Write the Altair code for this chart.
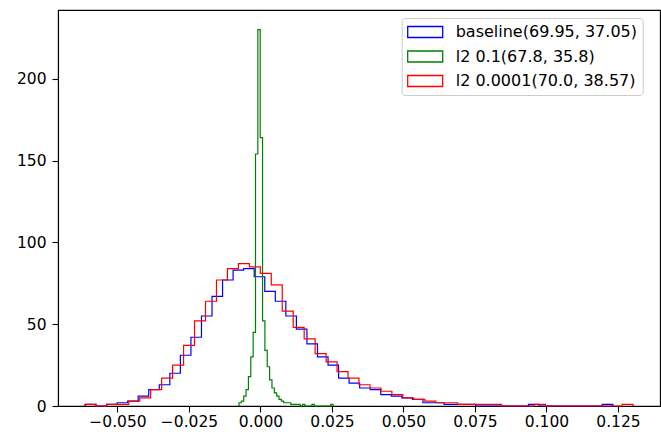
import altair as alt
import numpy as np
import pandas as pd

# ---- data (step histograms) ----
series_names = ["baseline(69.95, 37.05)", "l2 0.1(67.8, 35.8)", "l2 0.0001(70.0, 38.57)"]
series_colors = ["blue", "green", "red"]

baseline_range = [-0.0612, 0.1232]
baseline_counts = [1, 0, 1, 2, 3, 6, 10, 13, 20, 31,
                   42, 55, 67, 77, 83, 84, 79, 70, 64, 55,
                   47, 38, 30, 25, 17, 14, 11, 10, 7, 6,
                   5, 4, 2, 2, 1, 1, 1, 0, 0, 0,
                   0, 0, 1, 0, 0, 0, 0, 0, 0, 1]

l2_01_range = [-0.0075, 0.0254]
l2_01_counts = [2, 3, 6, 10, 18, 30, 45, 154, 230, 164,
                52, 34, 24, 16, 11, 8, 6, 4, 3, 2,
                2, 2, 1, 1, 1, 1, 0, 1, 0, 0,
                0, 1, 0, 0, 0, 0, 0, 0, 0, 1]

l2_00001_range = [-0.0614, 0.1303]
l2_00001_counts = [1, 0, 1, 1, 3, 5, 10, 17, 25, 37,
                   52, 64, 77, 84, 87, 85, 81, 74, 58, 48,
                   41, 32, 27, 21, 17, 13, 11, 9, 7, 5,
                   4, 3, 2, 2, 1, 1, 1, 1, 0, 0,
                   0, 1, 0, 0, 0, 0, 0, 0, 0, 1]

x_ticks = [-0.05, -0.025, 0.0, 0.025, 0.05, 0.075, 0.1, 0.125]
y_ticks = [0, 50, 100, 150, 200]


def outline(name, rng, counts):
    edges = np.linspace(rng[0], rng[1], len(counts) + 1)
    xs = [edges[0]] + list(edges[:-1]) + [edges[-1], edges[-1]]
    ys = [0] + list(counts) + [counts[-1], 0]
    return pd.DataFrame({"x": xs, "y": ys, "order": range(len(xs)), "series": name})


frames = [
    outline(series_names[0], baseline_range, baseline_counts),
    outline(series_names[1], l2_01_range, l2_01_counts),
    outline(series_names[2], l2_00001_range, l2_00001_counts),
]

color_scale = alt.Scale(domain=series_names, range=series_colors)

x_enc = alt.X("x:Q", scale=alt.Scale(domain=[-0.0708, 0.1397], nice=False, zero=False),
              axis=alt.Axis(values=x_ticks, format=".3f", title=None, labelPadding=2))
y_enc = alt.Y("y:Q", scale=alt.Scale(domain=[0, 242], nice=False),
              axis=alt.Axis(values=y_ticks, title=None, labelPadding=6))

legend = alt.Legend(
    title=None, orient="none", legendX=343.7, legendY=8,
    symbolType="M-1,-0.69H3.375V0.69H-1Z", symbolSize=256,
    symbolStrokeWidth=1.3, symbolFillColor="white",
    labelFontSize=16, labelFont="DejaVu Sans", labelColor="black", labelLimit=0,
    labelOffset=31, rowPadding=6.5, padding=5,
    strokeColor="#cccccc", fillColor="white", cornerRadius=3,
)


def layer(df):
    return alt.Chart(df).mark_line(interpolate="step-after", strokeWidth=1.2).encode(
        x=x_enc,
        y=y_enc,
        order="order:Q",
        color=alt.Color("series:N", scale=color_scale, legend=legend),
    )


chart = alt.layer(
    layer(frames[0]), layer(frames[1]), layer(frames[2])
).properties(
    width=602, height=396,
    padding={"left": 58, "top": 10, "right": 1, "bottom": 26},
    autosize=alt.AutoSizeParams(type="none"),
).configure_view(
    stroke="black", strokeWidth=1.1
).configure_axis(
    grid=False, domainColor="black", domainWidth=1.1, tickColor="black", tickWidth=1.1,
    tickSize=6, labelFont="DejaVu Sans", labelFontSize=15.5, labelColor="black", zindex=1,
)

chart.save("out.html", embed_options={"renderer": "svg", "actions": False})
